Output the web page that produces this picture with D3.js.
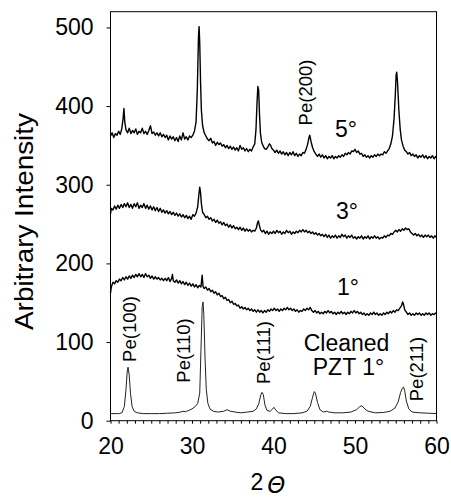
<!DOCTYPE html>
<html>
<head>
<meta charset="utf-8">
<script src="https://cdn.jsdelivr.net/npm/d3@7"></script>
<style>
  body { margin: 0; background: #fff; }
  text { font-family: "Liberation Sans", Arial, sans-serif; fill: #000; }
</style>
</head>
<body>
<svg></svg>
<script>
// canvas properties
const w = 451;
const h = 499;
const margin = {left: 110.5, right: 14.5, top: 11.7, bottom: 78.3};

// tick values
const xTicks = [20, 30, 40, 50, 60];
const yTicks = [0, 100, 200, 300, 400, 500];

// 5 degree pattern [2theta, intensity]
const tilt5 = [
  [20.0,362],[20.2,366],[20.4,360],[20.6,365],[20.8,363],[21.0,368],[21.2,364],[21.4,372],[21.55,385],[21.65,397],
  [21.75,380],[21.9,370],[22.1,366],[22.3,372],[22.5,365],[22.7,369],[22.9,366],[23.1,371],[23.3,364],[23.5,368],
  [23.7,366],[23.9,372],[24.1,365],[24.3,368],[24.5,364],[24.7,369],[24.9,375],[25.1,365],[25.3,367],[25.5,363],
  [25.7,366],[25.9,362],[26.1,366],[26.3,361],[26.5,364],[26.7,360],[26.9,363],[27.1,357],[27.3,362],[27.5,358],
  [27.7,361],[27.9,356],[28.1,360],[28.3,355],[28.5,362],[28.7,357],[28.9,366],[29.1,358],[29.3,361],[29.5,357],
  [29.7,362],[29.9,360],[30.1,363],[30.3,368],[30.5,380],[30.65,420],[30.8,490],[30.87,501],[30.95,480],[31.05,430],
  [31.15,395],[31.3,375],[31.5,366],[31.7,362],[31.9,358],[32.1,356],[32.3,359],[32.5,353],[32.7,355],[32.9,350],
  [33.1,354],[33.3,351],[33.5,353],[33.7,349],[33.9,351],[34.1,347],[34.3,350],[34.5,346],[34.7,349],[34.9,345],
  [35.1,348],[35.3,344],[35.5,347],[35.7,343],[35.9,350],[36.1,345],[36.3,347],[36.5,343],[36.7,346],[36.9,342],
  [37.1,345],[37.3,343],[37.5,348],[37.7,352],[37.85,370],[37.98,405],[38.08,425],[38.18,420],[38.28,390],[38.4,365],
  [38.55,354],[38.7,350],[38.9,346],[39.1,345],[39.3,348],[39.5,352],[39.65,350],[39.8,346],[40.0,344],[40.2,341],
  [40.4,344],[40.6,340],[40.8,343],[41.0,339],[41.2,342],[41.4,338],[41.6,341],[41.8,337],[42.0,341],[42.2,338],
  [42.4,342],[42.6,337],[42.8,340],[43.0,336],[43.2,339],[43.4,337],[43.6,341],[43.8,340],[44.0,345],[44.2,352],
  [44.35,360],[44.45,363],[44.6,355],[44.8,347],[45.0,342],[45.2,339],[45.4,336],[45.6,339],[45.8,335],[46.0,338],
  [46.2,334],[46.4,337],[46.6,333],[46.8,336],[47.0,334],[47.2,337],[47.4,333],[47.6,336],[47.8,334],[48.0,337],
  [48.2,335],[48.4,338],[48.6,336],[48.8,340],[49.0,338],[49.2,341],[49.4,339],[49.6,343],[49.8,342],[50.0,345],
  [50.2,341],[50.4,343],[50.6,339],[50.8,340],[51.0,336],[51.2,338],[51.4,335],[51.6,337],[51.8,334],[52.0,337],
  [52.2,335],[52.4,338],[52.6,336],[52.8,339],[53.0,337],[53.2,339],[53.4,338],[53.6,342],[53.8,340],[54.0,343],
  [54.2,346],[54.4,352],[54.6,362],[54.8,385],[54.95,415],[55.05,440],[55.12,443],[55.22,430],[55.38,395],[55.55,370],
  [55.7,357],[55.9,349],[56.1,344],[56.3,342],[56.5,339],[56.7,341],[56.9,337],[57.1,339],[57.3,336],[57.5,338],
  [57.7,334],[57.9,337],[58.1,335],[58.3,338],[58.5,334],[58.7,337],[58.9,333],[59.1,336],[59.3,334],[59.5,337],
  [59.7,333],[59.9,336],[60.0,334]
];

// 3 degree pattern
const tilt3 = [
  [20.0,263],[20.1,270],[20.3,268],[20.5,273],[20.7,269],[20.9,274],[21.1,270],[21.3,275],[21.5,271],[21.7,276],
  [21.9,272],[22.1,277],[22.3,271],[22.5,275],[22.7,270],[22.9,276],[23.1,272],[23.3,277],[23.5,270],[23.7,274],
  [23.9,271],[24.1,276],[24.3,270],[24.5,274],[24.7,269],[24.9,273],[25.1,268],[25.3,272],[25.5,267],[25.7,271],
  [25.9,266],[26.1,270],[26.3,265],[26.5,268],[26.7,264],[26.9,267],[27.1,263],[27.3,266],[27.5,262],[27.7,265],
  [27.9,261],[28.1,264],[28.3,260],[28.5,263],[28.7,259],[28.9,262],[29.1,258],[29.3,261],[29.5,257],[29.7,260],
  [29.9,256],[30.1,262],[30.3,260],[30.5,264],[30.7,272],[30.85,288],[30.95,297],[31.05,290],[31.15,276],[31.3,265],
  [31.5,262],[31.7,258],[31.9,260],[32.1,256],[32.3,258],[32.5,254],[32.7,256],[32.9,252],[33.1,255],[33.3,251],
  [33.5,253],[33.7,249],[33.9,252],[34.1,248],[34.3,250],[34.5,246],[34.7,249],[34.9,245],[35.1,248],[35.3,244],
  [35.5,246],[35.7,243],[35.9,246],[36.1,242],[36.3,245],[36.5,241],[36.7,244],[36.9,241],[37.1,243],[37.3,240],
  [37.5,242],[37.7,241],[37.9,245],[38.05,252],[38.15,254],[38.25,249],[38.4,243],[38.6,240],[38.8,242],[39.0,238],
  [39.2,241],[39.4,237],[39.6,240],[39.8,238],[40.0,241],[40.2,238],[40.4,242],[40.6,239],[40.8,241],[41.0,237],
  [41.2,240],[41.4,238],[41.6,242],[41.8,239],[42.0,241],[42.2,237],[42.4,240],[42.6,238],[42.8,241],[43.0,239],
  [43.2,242],[43.4,240],[43.6,243],[43.8,240],[44.0,242],[44.2,239],[44.4,241],[44.6,238],[44.8,240],[45.0,237],
  [45.2,239],[45.4,236],[45.6,238],[45.8,235],[46.0,237],[46.2,234],[46.4,237],[46.6,233],[46.8,236],[47.0,232],
  [47.2,235],[47.4,233],[47.6,236],[47.8,232],[48.0,235],[48.2,233],[48.4,237],[48.6,234],[48.8,236],[49.0,232],
  [49.2,235],[49.4,233],[49.6,236],[49.8,232],[50.0,234],[50.2,231],[50.4,234],[50.6,232],[50.8,235],[51.0,231],
  [51.2,234],[51.4,232],[51.6,235],[51.8,231],[52.0,234],[52.2,232],[52.4,235],[52.6,232],[52.8,234],[53.0,231],
  [53.2,233],[53.4,232],[53.6,235],[53.8,233],[54.0,236],[54.2,235],[54.4,238],[54.6,237],[54.8,240],[55.0,242],
  [55.2,240],[55.4,243],[55.6,241],[55.8,244],[56.0,242],[56.2,245],[56.4,243],[56.6,244],[56.8,240],[57.0,238],
  [57.2,236],[57.4,238],[57.6,235],[57.8,237],[58.0,234],[58.2,236],[58.4,233],[58.6,236],[58.8,234],[59.0,236],
  [59.2,233],[59.4,235],[59.6,232],[59.8,235],[60.0,233]
];

// 1 degree pattern
const tilt1 = [
  [20.0,162],[20.1,170],[20.3,176],[20.5,174],[20.7,178],[20.9,176],[21.1,180],[21.3,178],[21.5,182],[21.7,179],
  [21.9,183],[22.1,180],[22.3,184],[22.5,181],[22.7,185],[22.9,182],[23.1,186],[23.3,183],[23.5,187],[23.7,183],
  [23.9,186],[24.1,182],[24.3,187],[24.5,183],[24.7,185],[24.9,181],[25.1,184],[25.3,180],[25.5,183],[25.7,180],
  [25.9,182],[26.1,179],[26.3,181],[26.5,178],[26.7,181],[26.9,178],[27.1,182],[27.3,177],[27.5,181],[27.6,186],
  [27.7,178],[27.9,176],[28.1,179],[28.3,175],[28.5,178],[28.7,174],[28.9,177],[29.1,173],[29.3,176],[29.5,172],
  [29.7,175],[29.9,171],[30.1,174],[30.3,170],[30.5,173],[30.7,169],[30.9,172],[31.1,170],[31.25,185],[31.35,171],
  [31.5,168],[31.7,170],[31.9,166],[32.1,168],[32.3,164],[32.5,166],[32.7,162],[32.9,164],[33.1,160],[33.3,162],
  [33.5,158],[33.7,159],[33.9,155],[34.1,157],[34.3,153],[34.5,154],[34.7,150],[34.9,152],[35.1,148],[35.3,149],
  [35.5,146],[35.7,147],[35.9,143],[36.1,145],[36.3,142],[36.5,144],[36.7,141],[36.9,143],[37.1,140],[37.3,142],
  [37.5,139],[37.7,141],[37.9,138],[38.1,141],[38.3,138],[38.5,140],[38.7,137],[38.9,140],[39.1,138],[39.3,141],
  [39.5,139],[39.7,142],[39.9,140],[40.1,143],[40.3,140],[40.5,142],[40.7,139],[40.9,142],[41.1,140],[41.3,143],
  [41.5,141],[41.7,144],[41.9,141],[42.1,143],[42.3,140],[42.5,142],[42.7,139],[42.9,141],[43.1,138],[43.3,140],
  [43.5,139],[43.7,142],[43.9,140],[44.1,143],[44.3,141],[44.5,144],[44.7,140],[44.9,138],[45.1,140],[45.3,137],
  [45.5,139],[45.7,136],[45.9,138],[46.1,136],[46.3,139],[46.5,137],[46.7,140],[46.9,137],[47.1,139],[47.3,136],
  [47.5,138],[47.7,135],[47.9,138],[48.1,136],[48.3,139],[48.5,136],[48.7,138],[48.9,135],[49.1,138],[49.3,136],
  [49.5,139],[49.7,137],[49.9,140],[50.1,137],[50.3,139],[50.5,136],[50.7,138],[50.9,135],[51.1,137],[51.3,134],
  [51.5,136],[51.7,134],[51.9,137],[52.1,135],[52.3,138],[52.5,135],[52.7,137],[52.9,134],[53.1,136],[53.3,134],
  [53.5,137],[53.7,135],[53.9,138],[54.1,136],[54.3,139],[54.5,137],[54.7,140],[54.9,138],[55.1,141],[55.3,140],
  [55.5,143],[55.7,146],[55.85,151],[55.95,148],[56.1,141],[56.3,138],[56.5,135],[56.7,137],[56.9,134],[57.1,136],
  [57.3,134],[57.5,137],[57.7,135],[57.9,137],[58.1,134],[58.3,136],[58.5,134],[58.7,137],[58.9,135],[59.1,137],
  [59.3,134],[59.5,136],[59.7,135],[59.9,137],[60.0,136]
];

// cleaned PZT 1 degree pattern
const cleaned = [
  [20.0,9],[21.0,9],[21.4,10],[21.7,18],[21.9,40],[22.05,62],[22.15,68],[22.3,58],[22.45,35],[22.65,18],
  [22.9,12],[23.3,10],[24.0,9],[25.0,9],[26.0,9],[27.0,9.5],[28.0,10],[28.6,11],[28.9,12],[29.2,11.5],
  [29.6,13],[30.0,15],[30.4,18],[30.7,22],[30.95,35],[31.1,90],[31.25,145],[31.35,151],[31.45,135],[31.6,80],
  [31.75,40],[31.95,22],[32.2,15],[32.6,12],[33.2,11],[33.9,12],[34.3,14],[34.7,12],[35.3,11],[36.0,10],
  [36.8,11],[37.5,12],[37.9,15],[38.2,22],[38.45,33],[38.6,36],[38.75,33],[38.95,20],[39.2,13],[39.6,12],
  [39.9,15],[40.05,17],[40.25,14],[40.6,10],[41.5,9],[42.5,9],[43.5,10],[44.1,12],[44.5,18],[44.8,30],
  [45.0,37],[45.15,35],[45.4,23],[45.7,14],[46.1,11],[46.5,12],[46.8,11],[47.5,10],[48.5,10],[49.5,11],
  [50.2,14],[50.6,18],[50.85,19],[51.2,15],[51.6,12],[52.5,10],[53.5,10.5],[54.3,12],[54.9,16],[55.3,24],
  [55.6,36],[55.8,41],[55.95,43],[56.1,38],[56.3,25],[56.6,15],[57.0,11],[58.0,10],[59.0,9.5],[60.0,9]
];

// peak labels (rotated) and curve labels, anchored in data coordinates
const peakLabels = [
  {text: "Pe(100)", at: [22.33, 116.6]},
  {text: "Pe(110)", at: [28.9, 89.3]},
  {text: "Pe(111)", at: [38.77, 86.7]},
  {text: "Pe(211)", at: [57.55, 65.7]},
  {text: "Pe(200)", at: [43.93, 417.3]}
];
const curveLabels = [
  {text: "5°", at: [47.54, 360.7], anchor: "start"},
  {text: "3°", at: [47.67, 256.5], anchor: "start"},
  {text: "1°", at: [47.79, 159.8], anchor: "start"},
  {text: "Cleaned", at: [48.96, 88.5], anchor: "middle"},
  {text: "PZT 1°", at: [49.2, 58.1], anchor: "middle"}
];

const svg = d3.select("svg")
              .attr("width", w)
              .attr("height", h);

const xScale = d3.scaleLinear()
                 .domain([20, 60])
                 .range([margin.left, w - margin.right]);

const yScale = d3.scaleLinear()
                 .domain([0, 520])
                 .range([h - margin.bottom, margin.top]);

// x-axis with minor ticks every degree
const xAxis = d3.axisBottom(xScale)
                .tickValues(d3.range(20, 61, 1))
                .tickSize(3)
                .tickFormat(d => xTicks.includes(d) ? d : "");

const gx = svg.append("g")
   .attr("id", "x-axis")
   .attr("transform", "translate(0, " + (h - margin.bottom) + ")")
   .call(xAxis);
gx.select(".domain").remove();
gx.selectAll("text")
  .attr("y", 17)
  .attr("dy", "0.71em")
  .style("font-size", "23px");

const yAxis = d3.axisLeft(yScale)
                .tickValues(yTicks)
                .tickSize(4)
                .tickPadding(13);

const gy = svg.append("g")
   .attr("id", "y-axis")
   .attr("transform", "translate(" + margin.left + ", 0)")
   .call(yAxis);
gy.select(".domain").remove();
gy.selectAll("text").style("font-size", "23px");

svg.selectAll(".tick line").attr("stroke", "#000");

// frame around the plot
svg.append("rect")
   .attr("x", margin.left)
   .attr("y", margin.top)
   .attr("width", w - margin.left - margin.right)
   .attr("height", h - margin.top - margin.bottom)
   .attr("fill", "none")
   .attr("stroke", "#000")
   .attr("stroke-width", 1);

const line = d3.line()
               .x(d => xScale(d[0]))
               .y(d => yScale(d[1]));

// noisy tilt patterns
[tilt5, tilt3, tilt1].forEach(series => {
  svg.append("path")
     .datum(series)
     .attr("d", line)
     .attr("fill", "none")
     .attr("stroke", "#000")
     .attr("stroke-width", 1.4)
     .attr("stroke-linejoin", "round");
});

svg.append("path")
   .datum(cleaned)
   .attr("d", line)
   .attr("fill", "none")
   .attr("stroke", "#222")
   .attr("stroke-width", 1);

// rotated peak labels
svg.selectAll(".peak")
   .data(peakLabels)
   .enter()
   .append("text")
   .attr("class", "peak")
   .attr("transform", d => "translate(" + xScale(d.at[0]) + "," + yScale(d.at[1]) + ") rotate(-90)")
   .attr("text-anchor", "middle")
   .attr("dy", "0.35em")
   .style("font-size", "18.5px")
   .text(d => d.text);

svg.selectAll(".curve-label")
   .data(curveLabels)
   .enter()
   .append("text")
   .attr("class", "curve-label")
   .attr("x", d => xScale(d.at[0]))
   .attr("y", d => yScale(d.at[1]))
   .attr("text-anchor", d => d.anchor)
   .style("font-size", "23px")
   .text(d => d.text);

// axis titles
svg.append("text")
   .attr("transform", "translate(33, 221.5) rotate(-90)")
   .attr("text-anchor", "middle")
   .attr("textLength", 217)
   .attr("lengthAdjust", "spacingAndGlyphs")
   .style("font-size", "26px")
   .text("Arbitrary Intensity");

const xTitle = svg.append("text")
   .attr("x", 268)
   .attr("y", 490)
   .attr("text-anchor", "middle")
   .style("font-size", "23px");
xTitle.append("tspan").text("2");
xTitle.append("tspan")
      .attr("dx", 4)
      .attr("dy", 3)
      .style("font-style", "italic")
      .style("font-family", "'DejaVu Sans', sans-serif")
      .style("font-weight", "200")
      .style("font-size", "23px")
      .text("Θ");
</script>
</body>
</html>
